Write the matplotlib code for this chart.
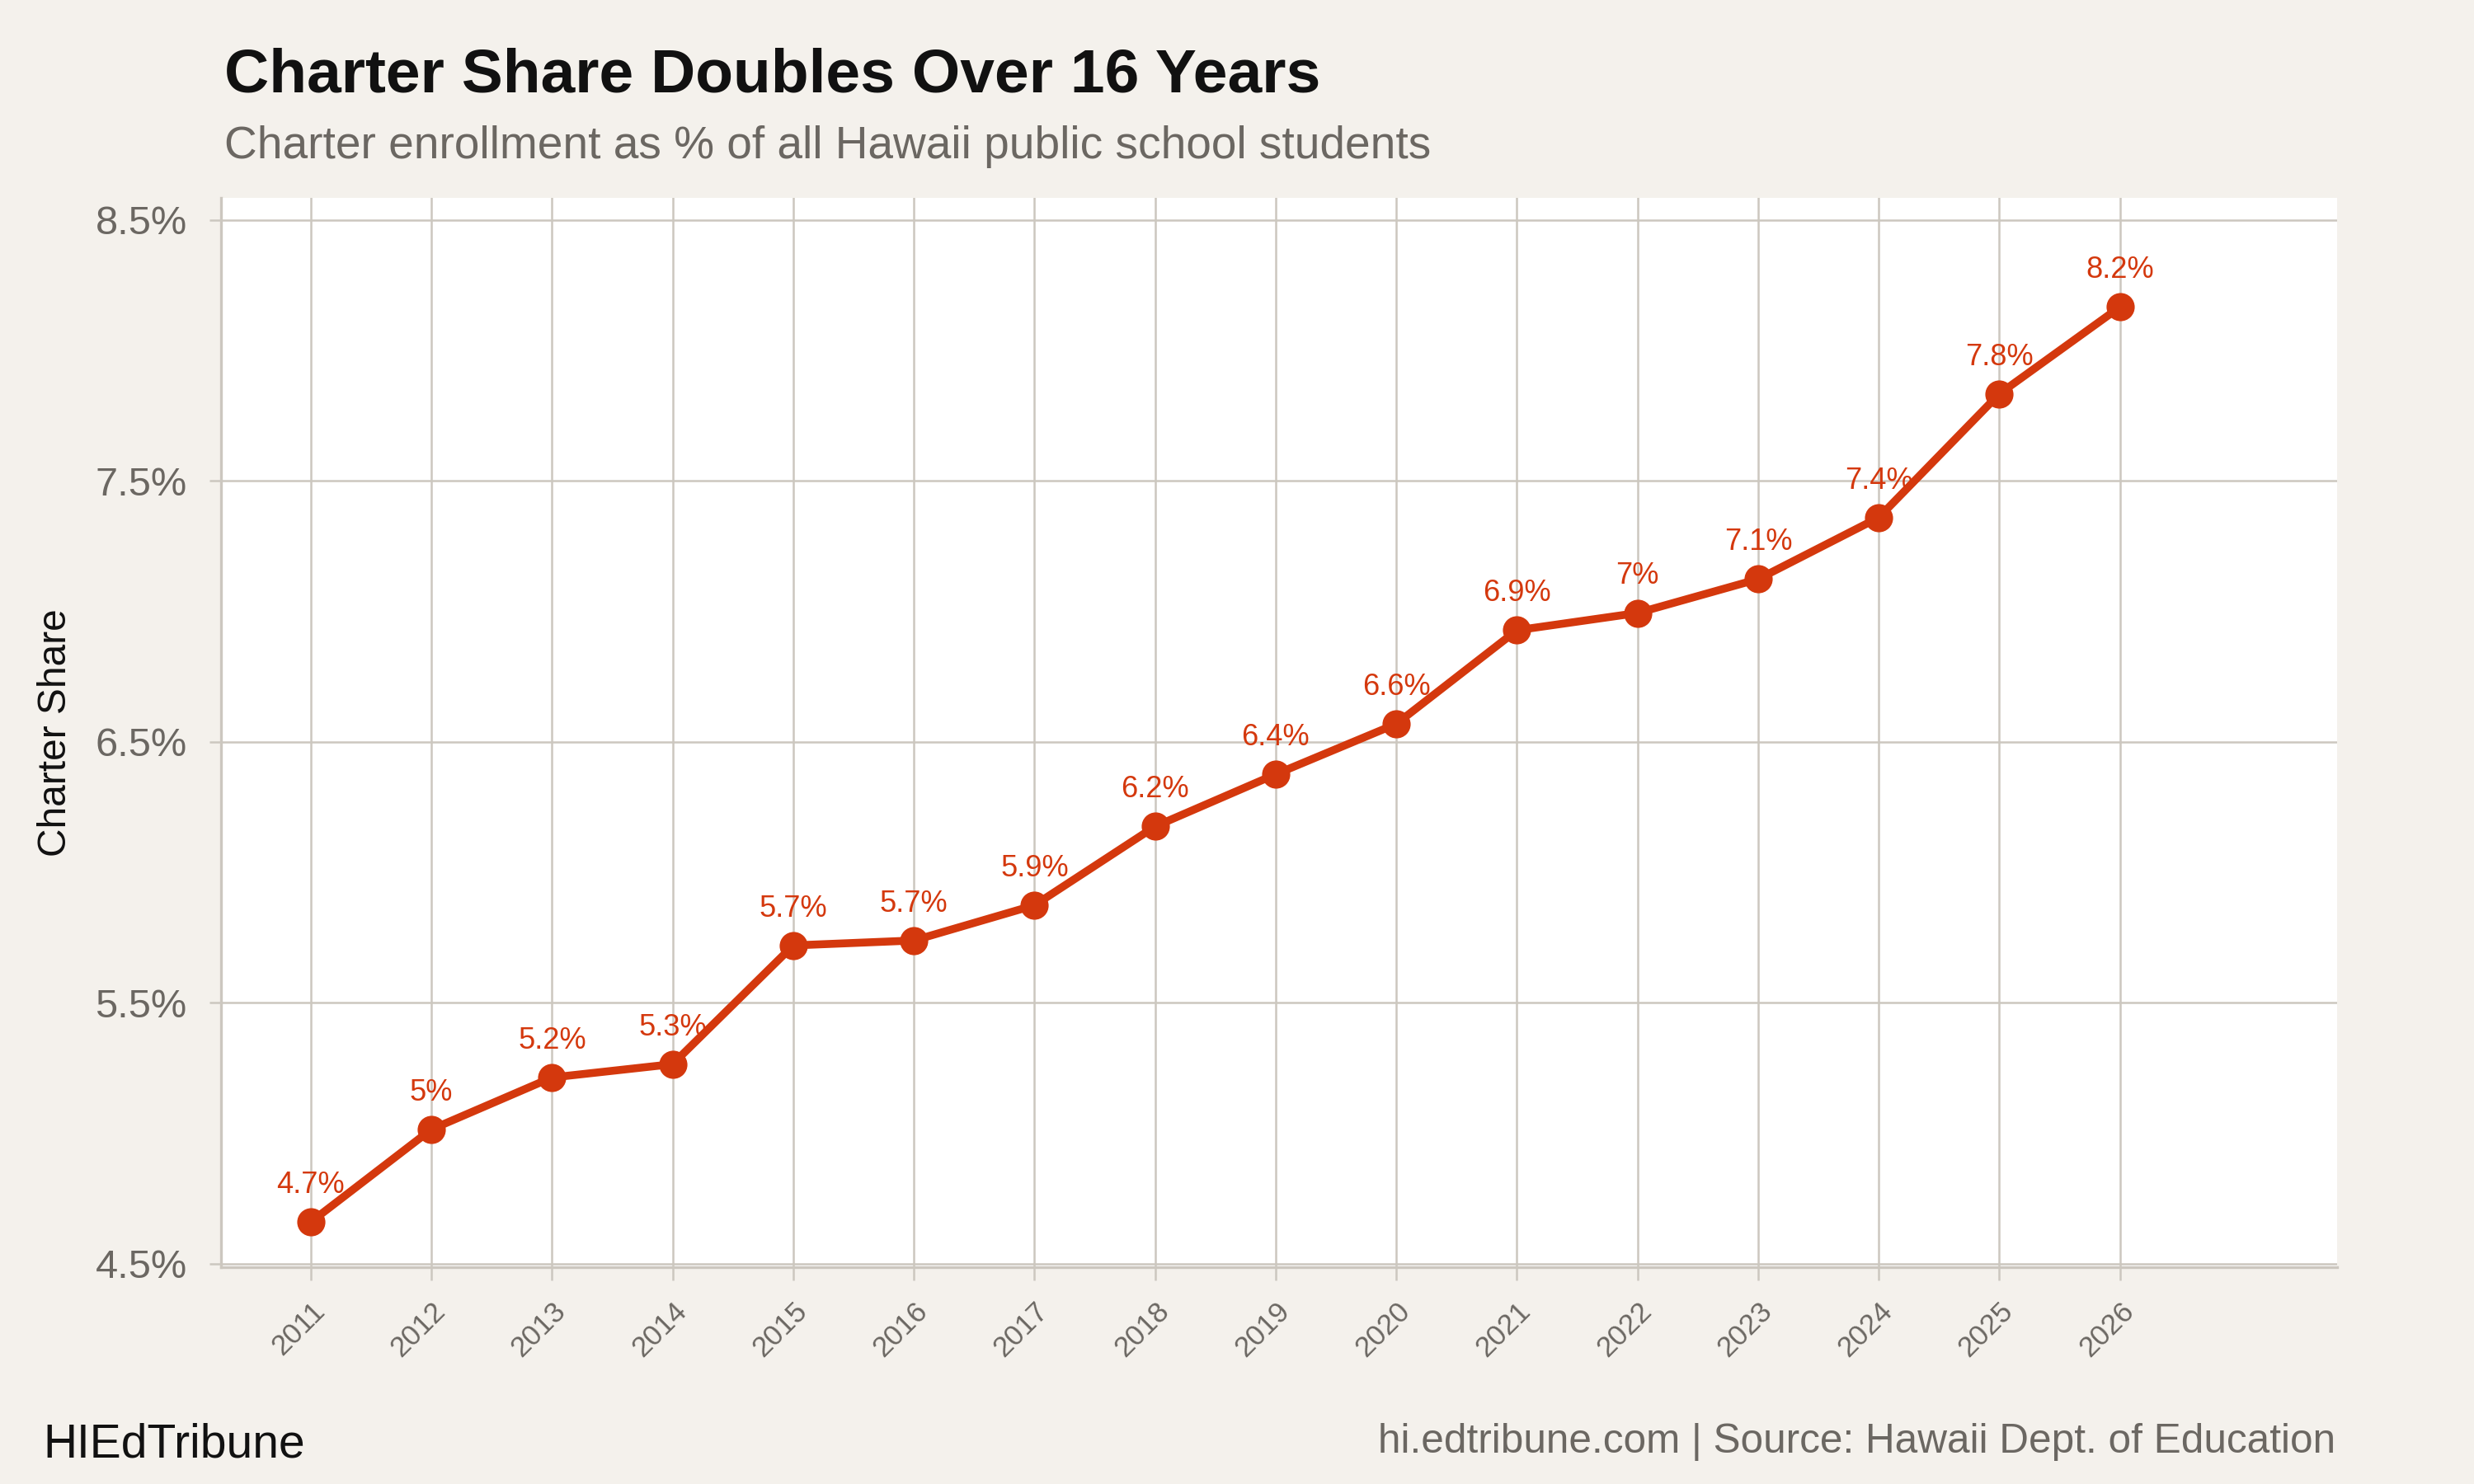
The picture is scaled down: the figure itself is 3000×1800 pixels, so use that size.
import matplotlib
matplotlib.use("Agg")
import matplotlib.pyplot as plt

years = [2011, 2012, 2013, 2014, 2015, 2016, 2017, 2018, 2019, 2020, 2021, 2022, 2023, 2024, 2025, 2026]
share = [4.66, 5.015, 5.214, 5.265, 5.72, 5.739, 5.874, 6.176, 6.376, 6.569, 6.928, 6.994, 7.124, 7.36, 7.834, 8.167]
y_ticks = [4.5, 5.5, 6.5, 7.5, 8.5]
y_tick_labels = ["4.5%", "5.5%", "6.5%", "7.5%", "8.5%"]

BG = "#F4F1EC"
GRID = "#CCC7BF"
RED = "#D4380D"
GRAY = "#6B6762"

plt.rcParams["font.family"] = ["Liberation Sans", "DejaVu Sans"]

fig = plt.figure(figsize=(10, 6), dpi=300, facecolor=BG)
ax = fig.add_axes([268 / 3000, 1 - 1537 / 1800, (2834 - 268) / 3000, (1537 - 240) / 1800])
ax.set_facecolor("white")

ax.plot(years, share, color=RED, lw=2.3, marker="o", ms=7.2, zorder=3, solid_capstyle="round")
for x, v in zip(years, share):
    lab = f"{round(v, 1):g}%"
    ax.annotate(lab, (x, v), xytext=(0, 6.5), textcoords="offset points",
                ha="center", va="bottom", color=RED, fontsize=8.7, zorder=4)

ax.set_xlim(2010.256, 2027.8)
ax.set_ylim(4.487, 8.585)
ax.set_xticks(years)
ax.set_xticklabels([str(y) for y in years], rotation=45, ha="right", va="top",
                   rotation_mode="anchor", fontsize=8.4, color=GRAY)
ax.set_yticks(y_ticks)
ax.set_yticklabels(y_tick_labels, fontsize=11.7, color=GRAY)
ax.tick_params(axis="x", length=3.8, width=0.6, color=GRID, pad=5)
ax.tick_params(axis="y", length=3.4, width=0.6, color=GRID, pad=6.5)

ax.grid(True, color=GRID, lw=0.6, zorder=0)
ax.set_axisbelow(True)
for s in ["top", "right"]:
    ax.spines[s].set_visible(False)
for s in ["left", "bottom"]:
    ax.spines[s].set_color(GRID)
    ax.spines[s].set_linewidth(0.8)

ax.set_ylabel("Charter Share", fontsize=11.5, color="#111111", labelpad=6)

fig.text(272 / 3000, 1 - 112 / 1800, "Charter Share Doubles Over 16 Years",
         fontsize=18, fontweight="bold", color="#111111", ha="left", va="baseline")
fig.text(272 / 3000, 1 - 192 / 1800, "Charter enrollment as % of all Hawaii public school students",
         fontsize=13.2, color=GRAY, ha="left", va="baseline")
fig.text(52 / 3000, 1 - 1767 / 1800, "HIEdTribune", fontsize=13.7, color="#111111",
         ha="left", va="baseline")
fig.text(2832 / 3000, 1 - 1762 / 1800, "hi.edtribune.com | Source: Hawaii Dept. of Education",
         fontsize=11.9, color=GRAY, ha="right", va="baseline")

fig.savefig("out.png", dpi=300, facecolor=BG)
